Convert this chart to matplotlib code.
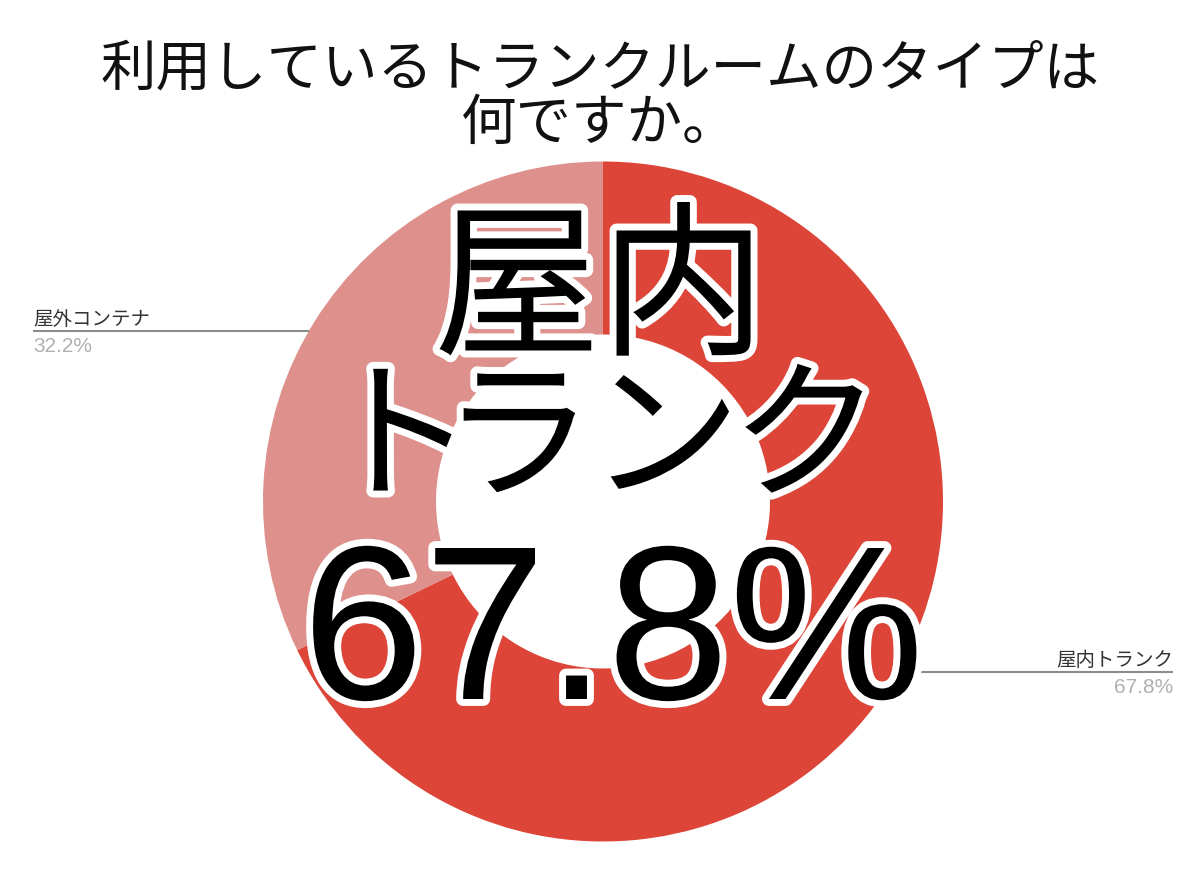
import matplotlib
matplotlib.use("Agg")
import matplotlib.pyplot as plt
import matplotlib.patheffects as pe
import numpy as np

TITLE_LINES = ["利用しているトランクルームのタイプは", "何ですか。"]
LABELS = ["屋内トランク", "屋外コンテナ"]
VALUES = [67.8, 32.2]
COLORS = ["#DC4538", "#DE918C"]
BIG_LINE1 = "屋内"
BIG_LINE2 = "トランク"
BIG_PCT = "67.8%"

JP = ["Noto Sans CJK JP", "DejaVu Sans"]
LAT = ["Liberation Sans", "DejaVu Sans"]

W, H = 1200, 878
fig = plt.figure(figsize=(W / 100, H / 100), dpi=100)
ax = fig.add_axes([0, 0, 1, 1])

# donut, pixel coordinates (y up)
cx, cy = 603, H - 502.5
R = 340
hole = 167
wedges, _ = ax.pie(VALUES, colors=COLORS, startangle=90, counterclock=False,
                   radius=R, center=(cx, cy),
                   wedgeprops=dict(width=R - hole, edgecolor="none"))
ax.set_xlim(0, W)
ax.set_ylim(0, H)
ax.set_aspect("equal")
ax.axis("off")

# title
ax.text(W / 2, H - 85, TITLE_LINES[0], family=JP, fontsize=40,
        ha="center", va="baseline", color="#111111")
ax.text(W / 2, H - 140, TITLE_LINES[1], family=JP, fontsize=40,
        ha="center", va="baseline", color="#111111")

# leader lines + labels
total = sum(VALUES)
start = 90.0
for lab, val, w in zip(LABELS, VALUES, wedges):
    mid = np.deg2rad(start - val / total * 360 / 2)
    start -= val / total * 360
    dy = R * np.sin(mid) * 0.945
    ly = cy + dy
    edge_dx = np.sqrt(R ** 2 - dy ** 2)
    pct = f"{val:.1f}%"
    if np.cos(mid) < 0:
        x0, x1 = 33, cx - edge_dx
        tx, ha = 33, "left"
    else:
        x0, x1 = cx + edge_dx, 1173
        tx, ha = 1173, "right"
    ax.plot([x0, x1], [ly, ly], color="#8c8c8c", lw=1.5, solid_capstyle="butt",
            zorder=3)
    ax.text(tx, ly + 7, lab, family=JP, fontsize=14, ha=ha, va="baseline",
            color="#333333", zorder=3)
    ax.text(tx, ly - 20, pct, family=LAT, fontsize=15, ha=ha, va="baseline",
            color="#b0b0b0", zorder=3)

# big overlay text with white outline
halo = [pe.withStroke(linewidth=10, foreground="white")]
ax.text(600, H - 343, BIG_LINE1, family=JP, fontsize=120, ha="center",
        va="baseline", color="black", path_effects=halo, zorder=5)
char_x = [399, 518, 665, 806]
for ch, x in zip(BIG_LINE2, char_x):
    ax.text(x, H - 487, ch, family=JP, fontsize=109, ha="center",
            va="baseline", color="black", path_effects=halo, zorder=5)
ax.text(613, H - 700, BIG_PCT, family=LAT, fontsize=158, ha="center",
        va="baseline", color="black", path_effects=halo, zorder=5)

fig.savefig("out.png", dpi=100, facecolor="white")
